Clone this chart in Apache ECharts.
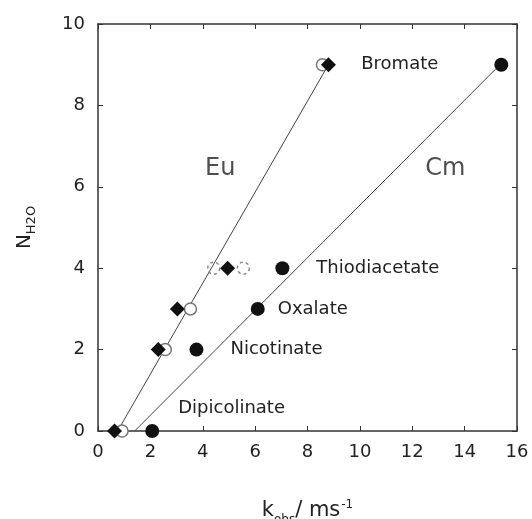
<!DOCTYPE html>
<html>
<head>
<meta charset="utf-8">
<script src="https://cdn.jsdelivr.net/npm/echarts@6/dist/echarts.min.js"></script>
<style>
  html, body { margin: 0; padding: 0; background: #fff; }
  #chart { width: 532px; height: 519px; }
</style>
</head>
<body>
<div id="chart"></div>
<script>
// Hydration number N(H2O) versus luminescence decay rate k_obs (ms^-1)
const xTicks = [0, 2, 4, 6, 8, 10, 12, 14, 16];
const yTicks = [0, 2, 4, 6, 8, 10];

// Eu(III) complexes: filled diamonds and open circles
const euDiamondK = [0.63, 2.3, 3.03, 4.95, 8.8];
const euDiamondN = [0, 2, 3, 4, 9];
const euOpenK = [0.92, 2.57, 3.53, 8.57];
const euOpenN = [0, 2, 3, 9];
const euDashedK = [4.42, 5.55];
const euDashedN = [4, 4];

// Cm(III) complexes: filled circles with ligand names
const cmK = [2.07, 3.76, 6.1, 7.04, 15.4];
const cmN = [0, 2, 3, 4, 9];
const cmLigands = ['Dipicolinate', 'Nicotinate', 'Oxalate', 'Thiodiacetate', 'Bromate'];

// Linear calibration lines (end points)
const euFitK = [0.75, 8.8];
const euFitN = [0, 9];
const cmFitK = [1.4, 15.35];
const cmFitN = [0, 9];

// Element labels
const elementNames = ['Eu', 'Cm'];
const elementK = [4.67, 13.26];
const elementN = [6.44, 6.44];

// label placement for the ligand names (pixels)
const ligandLabelOffsets = [[25, -23], [33, 0], [19, 0], [33, 0], [-62, 0]];

const zip = (a, b) => a.map((v, i) => [v, b[i]]);
const FONT = 'DejaVu Sans';
const INK = '#111';
const TEXT = '#222';

const chart = echarts.init(document.getElementById('chart'), null, { renderer: 'canvas' });

const axisLineStyle = { color: '#333', width: 1.5 };

chart.setOption({
  animation: false,
  backgroundColor: '#fff',
  grid: { left: 98, right: 15, top: 24, bottom: 88, containLabel: false, outerBoundsMode: 'none' },
  xAxis: [{
    type: 'value', min: 0, max: 16, interval: 2,
    axisLine: { show: true, onZero: false, lineStyle: axisLineStyle },
    axisTick: { show: true, inside: true, length: 5, lineStyle: { color: '#333', width: 1 } },
    axisLabel: { fontFamily: FONT, fontSize: 18, color: TEXT, margin: 12,
      formatter: v => xTicks.includes(v) ? String(v) : '' },
    splitLine: { show: false },
    name: '{k|k}{s|obs}{k|/ ms}{p|-1}',
    nameLocation: 'middle', nameGap: 68,
    nameTextStyle: {
      fontFamily: FONT, color: TEXT,
      rich: {
        k: { fontFamily: FONT, fontSize: 21, color: TEXT, verticalAlign: 'bottom' },
        s: { fontFamily: FONT, fontSize: 12, color: TEXT, verticalAlign: 'bottom', padding: [0, 0, -5, 0] },
        p: { fontFamily: FONT, fontSize: 12, color: TEXT, verticalAlign: 'top', padding: [0, 0, 10, 1] }
      }
    }
  }, {
    type: 'value', min: 0, max: 16, interval: 2, position: 'top',
    axisLine: { show: true, onZero: false, lineStyle: axisLineStyle },
    axisTick: { show: true, inside: true, length: 5, lineStyle: { color: '#333', width: 1 } },
    axisLabel: { show: false }, splitLine: { show: false }
  }],
  yAxis: [{
    type: 'value', min: 0, max: 10, interval: 2,
    axisLine: { show: true, onZero: false, lineStyle: axisLineStyle },
    axisTick: { show: true, inside: true, length: 5, lineStyle: { color: '#333', width: 1 } },
    axisLabel: { fontFamily: FONT, fontSize: 18, color: TEXT, margin: 13,
      formatter: v => yTicks.includes(v) ? String(v) : '' },
    splitLine: { show: false },
    name: '{n|N}{s|H2O}',
    nameLocation: 'middle', nameGap: 63, nameRotate: 90,
    nameTextStyle: {
      fontFamily: FONT, color: TEXT,
      rich: {
        n: { fontFamily: FONT, fontSize: 20, color: TEXT, verticalAlign: 'bottom' },
        s: { fontFamily: FONT, fontSize: 13, color: TEXT, verticalAlign: 'bottom', padding: [0, 0, -3, 0] }
      }
    }
  }, {
    type: 'value', min: 0, max: 10, interval: 2, position: 'right',
    axisLine: { show: true, onZero: false, lineStyle: axisLineStyle },
    axisTick: { show: true, inside: true, length: 5, lineStyle: { color: '#333', width: 1 } },
    axisLabel: { show: false }, splitLine: { show: false }
  }],
  series: [
    {
      name: 'Eu fit', type: 'line', data: zip(euFitK, euFitN),
      symbol: 'none', silent: true, z: 1,
      lineStyle: { color: '#444', width: 1 }
    },
    {
      name: 'Cm fit', type: 'line', data: zip(cmFitK, cmFitN),
      symbol: 'none', silent: true, z: 1,
      lineStyle: { color: '#444', width: 1 }
    },
    {
      name: 'Eu open', type: 'scatter', data: zip(euOpenK, euOpenN),
      symbol: 'circle', symbolSize: 12, z: 2,
      itemStyle: { color: '#fff', borderColor: '#777', borderWidth: 1.5, opacity: 1 }
    },
    {
      name: 'Eu open (dashed)', type: 'scatter', data: zip(euDashedK, euDashedN),
      symbol: 'circle', symbolSize: 12, z: 2,
      itemStyle: { color: 'rgba(255,255,255,0)', borderColor: '#888', borderWidth: 1.5, borderType: [3, 3], opacity: 1 }
    },
    {
      name: 'Eu', type: 'scatter', data: zip(euDiamondK, euDiamondN),
      symbol: 'diamond', symbolSize: [15, 15], z: 3,
      itemStyle: { color: INK, opacity: 1 }
    },
    {
      name: 'Cm', type: 'scatter', z: 3,
      data: cmK.map((k, i) => ({
        value: [k, cmN[i]],
        label: {
          show: true, formatter: cmLigands[i],
          position: ligandLabelOffsets[i][0] < 0 ? 'left' : 'right',
          distance: 0,
          offset: [ligandLabelOffsets[i][0] < 0 ? ligandLabelOffsets[i][0] + 6 : ligandLabelOffsets[i][0] - 6, ligandLabelOffsets[i][1]],
          fontFamily: FONT, fontSize: 18, color: TEXT
        }
      })),
      symbol: 'circle', symbolSize: 14,
      itemStyle: { color: INK, opacity: 1 }
    },
    {
      name: 'elements', type: 'scatter', silent: true, z: 4,
      data: elementK.map((k, i) => ({ value: [k, elementN[i]], name: elementNames[i] })),
      symbolSize: 0,
      label: { show: true, position: 'inside', formatter: p => p.name,
        fontFamily: FONT, fontSize: 24, color: TEXT }
    }
  ]
});
</script>
</body>
</html>
